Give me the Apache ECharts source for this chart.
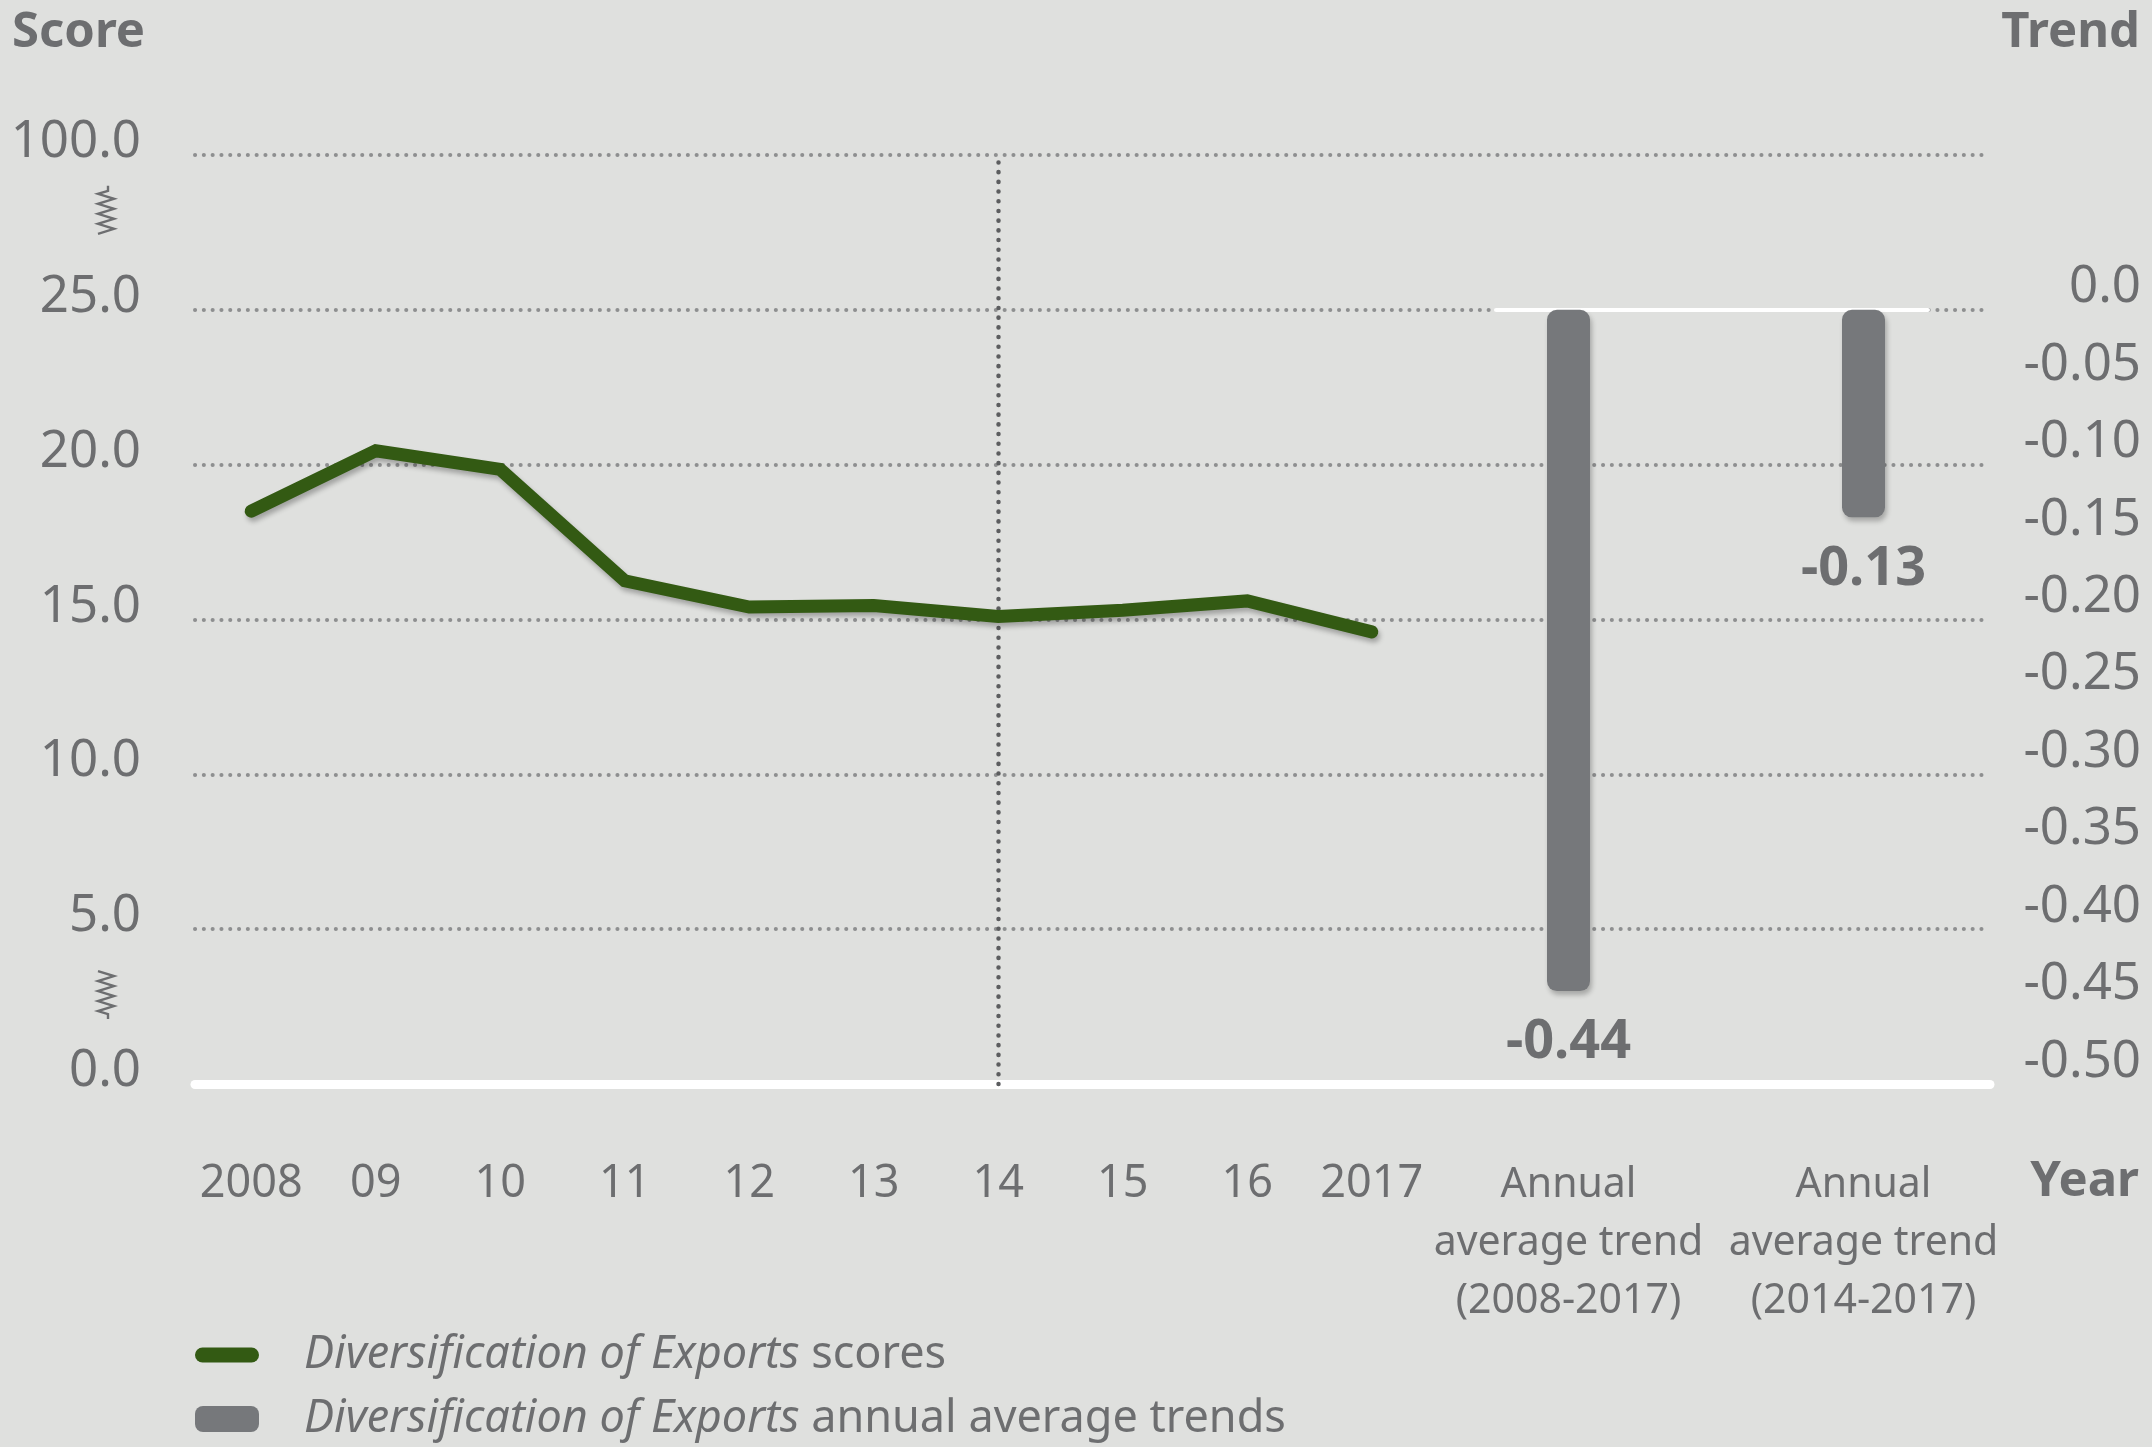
<!DOCTYPE html>
<html>
<head>
<meta charset="utf-8">
<script src="https://cdn.jsdelivr.net/npm/echarts@6/dist/echarts.min.js"></script>
<style>
html,body{margin:0;padding:0;background:#dfe0de;}
#c{width:2152px;height:1447px;}
</style>
</head>
<body>
<div id="c"></div>
<script>
// ---- data ----
const years = ['2008','09','10','11','12','13','14','15','16','2017'];
const scores = [18.5, 20.45, 19.85, 16.25, 15.4, 15.45, 15.1, 15.3, 15.6, 14.6];
const trendCategories = ['Annual\naverage trend\n(2008-2017)', 'Annual\naverage trend\n(2014-2017)'];
const trendValues = [-0.44, -0.134];
const scoreTickLabels = ['0.0','5.0','10.0','15.0','20.0','25.0','100.0'];
const trendTickLabels = ['-0.50','-0.45','-0.40','-0.35','-0.30','-0.25','-0.20','-0.15','-0.10','-0.05','0.0','',''];
const markedYear = '14';
const axisBreaks = [28.1, 3.0];

const TXT = '#6d6e70';
const FONT = 'Noto Sans';
const dotted = {color:'#8e8f90', width:4, type:[0.1, 8.7], cap:'round'};

const chart = echarts.init(document.getElementById('c'));
const gridTop = 155, gridBottom = 363;

const option = {
  backgroundColor:'#dfe0de',
  textStyle:{fontFamily:FONT},
  title:[
    {text:'Score', left:7, top:4, textStyle:{fontFamily:FONT, fontSize:49, fontWeight:'bold', color:TXT}},
    {text:'Trend', right:7, top:4, textStyle:{fontFamily:FONT, fontSize:49, fontWeight:'bold', color:TXT}},
    {text:'Year', right:8, top:1153, textStyle:{fontFamily:FONT, fontSize:49, fontWeight:'bold', color:TXT}}
  ],
  legend:{
    orient:'vertical', left:195, top:1330, itemWidth:64, itemHeight:30, itemGap:14, padding:0,
    selectedMode:false,
    data:[
      {name:'scores', icon:'path://M7.5,0H56.5A7.5,7.5,0,0,1,56.5,15H7.5A7.5,7.5,0,0,1,7.5,0Z'},
      {name:'trends', icon:'path://M8,0H56A8,8,0,0,1,64,8V18A8,8,0,0,1,56,26H8A8,8,0,0,1,0,18V8A8,8,0,0,1,8,0Z'}
    ],
    formatter:function(n){
      return n==='scores' ? '{i|Diversification of Exports} scores' : '{i|Diversification of Exports} annual average trends';
    },
    textStyle:{fontFamily:FONT, fontSize:45, color:TXT, lineHeight:50, padding:[0,0,0,40],
      rich:{i:{fontFamily:FONT, fontSize:45, fontStyle:'italic', color:TXT, lineHeight:50}}}
  },
  grid:[
    {left:195, right:162, top:gridTop, bottom:gridBottom},
    {left:189, width:1245, top:gridTop, bottom:gridBottom},
    {left:1421, width:590, top:gridTop, bottom:gridBottom},
    {left:1496, width:432, top:310, height:10}
  ],
  xAxis:[
    {gridIndex:0, type:'value', min:0, max:1, axisLine:{show:true, onZero:false, lineStyle:{color:'#ffffff', width:9}},
      axisTick:{show:false}, axisLabel:{show:false}, splitLine:{show:false}, z:4},
    {gridIndex:1, type:'category', data:years, boundaryGap:true,
      axisLine:{show:false}, axisTick:{show:false},
      axisLabel:{interval:0, margin:72, fontFamily:FONT, fontSize:45, lineHeight:57, color:TXT}},
    {gridIndex:2, type:'category', data:trendCategories, boundaryGap:true,
      axisLine:{show:false}, axisTick:{show:false},
      axisLabel:{interval:0, margin:72, fontFamily:FONT, fontSize:41, lineHeight:58, color:TXT}},
    {gridIndex:3, type:'value', position:'top', min:0, max:1,
      axisLine:{show:true, onZero:false, lineStyle:{color:'#ffffff', width:4}},
      axisTick:{show:false}, axisLabel:{show:false}, splitLine:{show:false}, z:4}
  ],
  yAxis:[
    {gridIndex:0, type:'value', min:0, max:30, interval:5, position:'left',
      axisLine:{show:false}, axisTick:{show:false},
      axisLabel:{margin:54, fontFamily:FONT, fontSize:51, color:TXT, verticalAlign:'bottom', lineHeight:25,
        formatter:function(v){ return scoreTickLabels[Math.round(v/5)]; }},
      splitLine:{show:true, lineStyle:dotted}},
    {gridIndex:0, type:'value', min:-0.5, max:0.1, interval:0.05, position:'right',
      axisLine:{show:false}, axisTick:{show:false}, splitLine:{show:false},
      axisLabel:{margin:151, align:'right', fontFamily:FONT, fontSize:51, color:TXT, verticalAlign:'bottom', lineHeight:44,
        formatter:function(v){ return trendTickLabels[Math.round((v+0.5)/0.05)]; }}},
    {gridIndex:1, type:'value', min:0, max:30, show:false},
    {gridIndex:2, type:'value', min:-0.5, max:0.1, show:false},
    {gridIndex:3, type:'value', min:0, max:1, show:false}
  ],
  series:[
    {name:'scores', type:'line', xAxisIndex:1, yAxisIndex:2, data:scores,
      color:'#335a13', symbol:'none', z:5,
      lineStyle:{width:13, color:'#335a13', cap:'round', join:'miter',
        shadowColor:'rgba(0,0,0,0.28)', shadowBlur:5, shadowOffsetX:2, shadowOffsetY:4},
      markLine:{silent:true, symbol:'none', label:{show:false},
        lineStyle:{color:'#5c5d5f', width:4.5, type:[0.1, 9.6], cap:'round'},
        data:[{xAxis:markedYear}]}
    },
    {name:'trends', type:'bar', xAxisIndex:2, yAxisIndex:3, data:trendValues,
      color:'#76787b', barWidth:43, z:5,
      itemStyle:{color:'#76787b', borderRadius:10,
        shadowColor:'rgba(0,0,0,0.25)', shadowBlur:5, shadowOffsetX:2, shadowOffsetY:4},
      label:{show:true, position:'bottom', distance:25, fontFamily:FONT, fontSize:54, fontWeight:'bold', color:TXT,
        formatter:function(p){ return p.value.toFixed(2); }}
    }
  ]
};
chart.setOption(option);

// axis-break markers placed via the score axis scale
function zigzag(yc, flip){
  const x = 106, s = flip ? -1 : 1;
  const pts = [[x+2, yc - s*28], [x+2, yc - s*23]];
  const n = 8, h = 40;
  for(let i=0;i<=n;i++){
    pts.push([x + (i%2===0 ? -8 : 8), yc - s*h/2 + s*i*h/n]);
  }
  return {type:'polyline', shape:{points:pts}, style:{stroke:TXT, lineWidth:2.4, fill:null}, z:10};
}
chart.setOption({graphic:[
  zigzag(chart.convertToPixel({yAxisIndex:0}, axisBreaks[0]), false),
  zigzag(chart.convertToPixel({yAxisIndex:0}, axisBreaks[1]), true)
]});
</script>
</body>
</html>
